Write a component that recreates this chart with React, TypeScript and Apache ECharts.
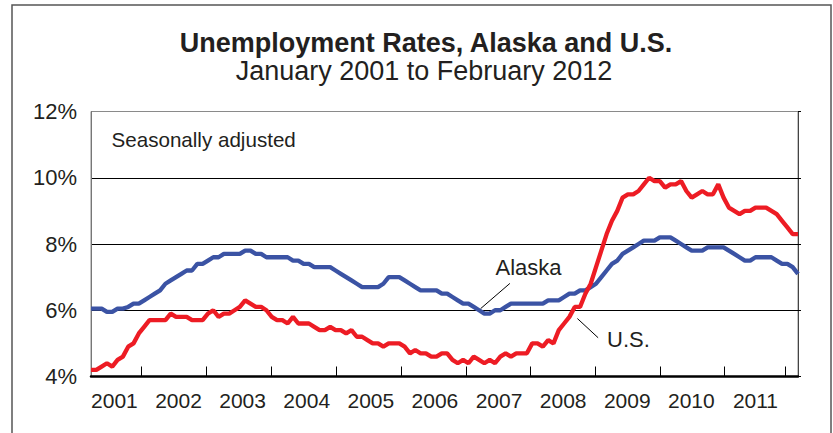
import React, { useEffect, useRef } from 'react';
import * as echarts from 'echarts';

const YEARS = ['2001', '2002', '2003', '2004', '2005', '2006', '2007', '2008', '2009', '2010', '2011'];

// Monthly, seasonally adjusted, Jan 2001 .. Feb 2012 (134 months)
const US = [
  4.2, 4.2, 4.3, 4.4, 4.3, 4.5, 4.6, 4.9, 5.0, 5.3, 5.5, 5.7,
  5.7, 5.7, 5.7, 5.9, 5.8, 5.8, 5.8, 5.7, 5.7, 5.7, 5.9, 6.0,
  5.8, 5.9, 5.9, 6.0, 6.1, 6.3, 6.2, 6.1, 6.1, 6.0, 5.8, 5.7,
  5.7, 5.6, 5.8, 5.6, 5.6, 5.6, 5.5, 5.4, 5.4, 5.5, 5.4, 5.4,
  5.3, 5.4, 5.2, 5.2, 5.1, 5.0, 5.0, 4.9, 5.0, 5.0, 5.0, 4.9,
  4.7, 4.8, 4.7, 4.7, 4.6, 4.6, 4.7, 4.7, 4.5, 4.4, 4.5, 4.4,
  4.6, 4.5, 4.4, 4.5, 4.4, 4.6, 4.7, 4.6, 4.7, 4.7, 4.7, 5.0,
  5.0, 4.9, 5.1, 5.0, 5.4, 5.6, 5.8, 6.1, 6.1, 6.5, 6.8, 7.3,
  7.8, 8.3, 8.7, 9.0, 9.4, 9.5, 9.5, 9.6, 9.8, 10.0, 9.9, 9.9,
  9.7, 9.8, 9.8, 9.9, 9.6, 9.4, 9.5, 9.6, 9.5, 9.5, 9.8, 9.4,
  9.1, 9.0, 8.9, 9.0, 9.0, 9.1, 9.1, 9.1, 9.0, 8.9, 8.7, 8.5,
  8.3, 8.3,
];

const ALASKA = [
  6.05, 6.05, 6.05, 5.95, 5.95, 6.05, 6.05, 6.1, 6.2, 6.2, 6.3, 6.4,
  6.5, 6.6, 6.8, 6.9, 7.0, 7.1, 7.2, 7.2, 7.4, 7.4, 7.5, 7.6,
  7.6, 7.7, 7.7, 7.7, 7.7, 7.8, 7.8, 7.7, 7.7, 7.6, 7.6, 7.6,
  7.6, 7.6, 7.5, 7.5, 7.4, 7.4, 7.3, 7.3, 7.3, 7.3, 7.2, 7.1,
  7.0, 6.9, 6.8, 6.7, 6.7, 6.7, 6.7, 6.8, 7.0, 7.0, 7.0, 6.9,
  6.8, 6.7, 6.6, 6.6, 6.6, 6.6, 6.5, 6.5, 6.4, 6.3, 6.2, 6.2,
  6.1, 6.0, 5.9, 5.9, 6.0, 6.0, 6.1, 6.2, 6.2, 6.2, 6.2, 6.2,
  6.2, 6.2, 6.3, 6.3, 6.3, 6.4, 6.5, 6.5, 6.6, 6.6, 6.7, 6.8,
  7.0, 7.2, 7.4, 7.5, 7.7, 7.8, 7.9, 8.0, 8.1, 8.1, 8.1, 8.2,
  8.2, 8.2, 8.1, 8.0, 7.9, 7.8, 7.8, 7.8, 7.9, 7.9, 7.9, 7.9,
  7.8, 7.7, 7.6, 7.5, 7.5, 7.6, 7.6, 7.6, 7.6, 7.5, 7.4, 7.4,
  7.3, 7.1,
];

const TITLE = 'Unemployment Rates, Alaska and U.S.';
const SUBTITLE = 'January 2001 to February 2012';
const NOTE = 'Seasonally adjusted';

const FONT = '"Liberation Sans", Arial, Helvetica, sans-serif';
const TEXT = '#231f20';
const RED = '#ed1c24';
const BLUE = '#3b53a4';

// axis decorations (month index positions along the time axis)
const X_LABEL_POS = YEARS.map((_, i) => 4.4 + i * 12.06);
const X_TICK_POS = [9.5, 21.7, 33.9, 46.1, 58.3, 70.5, 82.7, 94.9, 107.0, 119.2, 130.6];

export default function App() {
  const ref = useRef<HTMLDivElement>(null);

  useEffect(() => {
    const chart = echarts.init(ref.current as HTMLDivElement, null, { renderer: 'svg' });
    const usData = US.map((v, i) => [i, v]);
    const akData = ALASKA.map((v, i) => [i, v]);

    const option: any = {
      animation: false,
      backgroundColor: '#ffffff',
      textStyle: { fontFamily: FONT },
      grid: {
        left: 91,
        right: 35,
        top: 111.5,
        bottom: 56.5,
        show: true,
        borderColor: '#8a8a8a',
        borderWidth: 1,
        containLabel: false,
      },
      graphic: [
        {
          type: 'rect',
          shape: { x: 12, y: 5, width: 819, height: 445 },
          style: { fill: 'none', stroke: '#555555', lineWidth: 1.5 },
          silent: true,
        },
        {
          type: 'text',
          x: 426,
          y: 42.5,
          style: {
            text: TITLE,
            fontFamily: FONT,
            fontSize: 27,
            fontWeight: 'bold',
            fill: TEXT,
            align: 'center',
            verticalAlign: 'middle',
          },
        },
        {
          type: 'text',
          x: 424,
          y: 71,
          style: {
            text: SUBTITLE,
            fontFamily: FONT,
            fontSize: 27,
            fill: TEXT,
            align: 'center',
            verticalAlign: 'middle',
          },
        },
        {
          type: 'text',
          x: 111.5,
          y: 139.5,
          style: {
            text: NOTE,
            fontFamily: FONT,
            fontSize: 20.6,
            fill: TEXT,
            align: 'left',
            verticalAlign: 'middle',
          },
        },
      ],
      xAxis: {
        type: 'value',
        min: 0,
        max: US.length - 1,
        axisLine: { show: true, onZero: false, lineStyle: { color: '#000', width: 2.5 } },
        axisTick: {
          show: true,
          inside: true,
          length: 10,
          customValues: X_TICK_POS,
          lineStyle: { color: '#000', width: 1 },
        },
        axisLabel: {
          show: true,
          customValues: X_LABEL_POS,
          margin: 13,
          fontSize: 21,
          fontFamily: FONT,
          color: TEXT,
          formatter: (value: number) => {
            const i = X_LABEL_POS.findIndex((p) => Math.abs(p - value) < 0.01);
            return i >= 0 ? YEARS[i] : '';
          },
        },
        splitLine: { show: false },
      },
      yAxis: [
        {
          type: 'value',
          min: 4,
          max: 12,
          interval: 2,
          axisLine: { show: true, lineStyle: { color: '#777', width: 1 } },
          axisTick: { show: false },
          axisLabel: {
            formatter: '{value}%',
            fontSize: 22,
            fontFamily: FONT,
            color: TEXT,
            margin: 14,
            padding: [8, 0, 0, 0],
          },
          splitLine: {
            show: true,
            lineStyle: { color: ['#000', '#000', '#000', '#000', '#8a8a8a'], width: 1 },
          },
        },
        {
          type: 'value',
          position: 'right',
          min: 4,
          max: 12,
          interval: 2,
          axisLine: { show: true, lineStyle: { color: '#444', width: 1 } },
          axisTick: { show: true, inside: false, length: 3, lineStyle: { color: '#000' } },
          axisLabel: { show: false },
          splitLine: { show: false },
        },
      ],
      series: [
        {
          name: 'Alaska',
          type: 'line',
          data: akData,
          showSymbol: false,
          symbol: 'none',
          lineStyle: { color: BLUE, width: 4.3 },
          itemStyle: { color: BLUE },
          z: 3,
          markLine: {
            silent: true,
            symbol: ['none', 'none'],
            label: { show: false },
            lineStyle: { color: '#000', width: 1, type: 'solid' },
            data: [[{ coord: [78.8, 6.81] }, { coord: [73.3, 6.05] }]],
          },
          markPoint: {
            silent: true,
            symbol: 'circle',
            symbolSize: 1,
            itemStyle: { color: 'rgba(0,0,0,0)' },
            label: {
              show: true,
              position: 'inside',
              formatter: 'Alaska',
              fontSize: 22,
              fontFamily: FONT,
              color: TEXT,
            },
            data: [{ coord: [82.3, 7.28] }],
          },
        },
        {
          name: 'U.S.',
          type: 'line',
          data: usData,
          showSymbol: false,
          symbol: 'none',
          lineStyle: { color: RED, width: 4.3 },
          itemStyle: { color: RED },
          z: 4,
          markLine: {
            silent: true,
            symbol: ['none', 'none'],
            label: { show: false },
            lineStyle: { color: '#000', width: 1, type: 'solid' },
            data: [[{ coord: [91.5, 5.75] }, { coord: [95.4, 5.17] }]],
          },
          markPoint: {
            silent: true,
            symbol: 'circle',
            symbolSize: 1,
            itemStyle: { color: 'rgba(0,0,0,0)' },
            label: {
              show: true,
              position: 'inside',
              formatter: 'U.S.',
              fontSize: 22,
              fontFamily: FONT,
              color: TEXT,
            },
            data: [{ coord: [101.1, 5.12] }],
          },
        },
      ],
    };

    chart.setOption(option);
    return () => chart.dispose();
  }, []);

  return (
    <div
      ref={ref}
      style={{ position: 'absolute', left: 0, top: 0, width: 833, height: 433, background: '#fff' }}
    />
  );
}
